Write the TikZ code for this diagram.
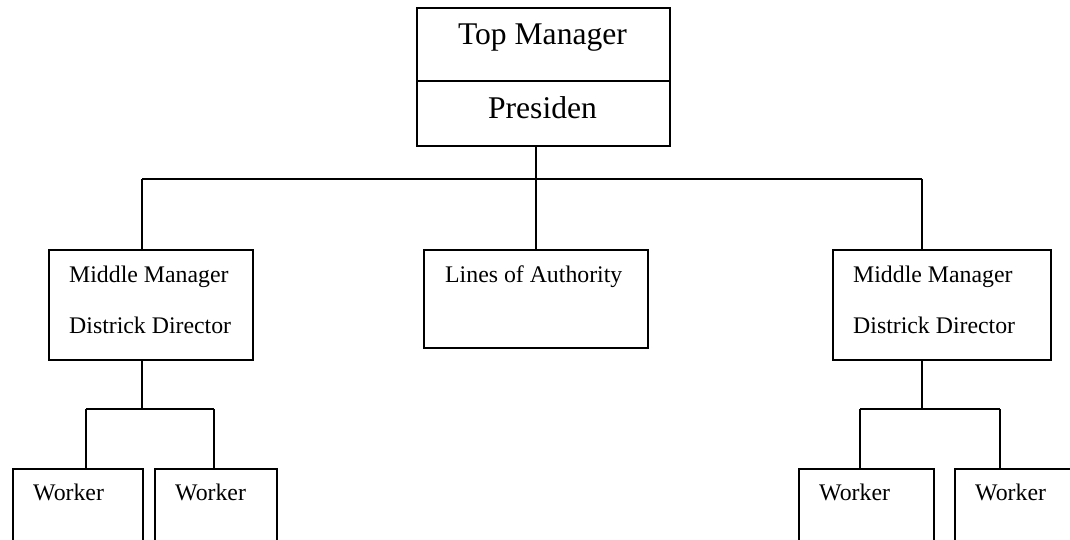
\documentclass[tikz,border=0pt]{standalone}
\usepackage{fontspec}
\setmainfont{Liberation Serif}

\begin{document}
\begin{tikzpicture}[
  x = 1pt, y = -1pt,
  box/.style={draw, line width=2pt, rectangle, anchor=north west, inner sep=0pt},
  bigtext/.style={anchor=base, inner sep=0pt, font=\fontsize{31.6}{38}\selectfont},
  smalltext/.style={anchor=base west, inner sep=0pt, font=\fontsize{23.8}{29}\selectfont},
  link/.style={line width=2pt, color=black}
]
    \useasboundingbox (0,0) rectangle (1070,540);
    \clip (0,0) rectangle (1070,540);

    % Top Manager
    \node (top) at (416, 7) [box, minimum width=253, minimum height=73] {};
    \node (toptxt) at ([shift={(126.5,38)}]top.north west) [bigtext] {Top Manager};

    % Presiden
    \node (pres) at (416, 80) [box, minimum width=253, minimum height=65] {};
    \node (prestxt) at ([shift={(126.5,39)}]pres.north west) [bigtext] {Presiden};

    % Middle Manager (left)
    \node (mmL) at (48, 249) [box, minimum width=204, minimum height=110] {};
    \node (mmLa) at ([shift={(21,33)}]mmL.north west) [smalltext] {Middle Manager};
    \node (mmLb) at ([shift={(21,84)}]mmL.north west) [smalltext] {Districk Director};

    % Lines of Authority
    \node (lines) at (423, 249) [box, minimum width=224, minimum height=98] {};
    \node (linestxt) at ([shift={(22,33)}]lines.north west) [smalltext] {Lines of Authority};

    % Middle Manager (right)
    \node (mmR) at (832, 249) [box, minimum width=218, minimum height=110] {};
    \node (mmRa) at ([shift={(21,33)}]mmR.north west) [smalltext] {Middle Manager};
    \node (mmRb) at ([shift={(21,84)}]mmR.north west) [smalltext] {Districk Director};

    % Workers
    \node (wL1) at (12, 468) [box, minimum width=130, minimum height=100] {};
    \node (wL1txt) at ([shift={(21,32)}]wL1.north west) [smalltext] {Worker};
    \node (wL2) at (154, 468) [box, minimum width=122, minimum height=100] {};
    \node (wL2txt) at ([shift={(21,32)}]wL2.north west) [smalltext] {Worker};
    \node (wR1) at (798, 468) [box, minimum width=135, minimum height=100] {};
    \node (wR1txt) at ([shift={(21,32)}]wR1.north west) [smalltext] {Worker};
    \node (wR2) at (954, 468) [box, minimum width=140, minimum height=100] {};
    \node (wR2txt) at ([shift={(21,32)}]wR2.north west) [smalltext] {Worker};

    % Junctions
    \coordinate (busL) at (142, 179);
    \coordinate (busR) at (922, 179);
    \coordinate (forkL) at (142, 409);
    \coordinate (forkR) at (922, 409);
    \coordinate (jL1) at (86, 409);
    \coordinate (jL2) at (214, 409);
    \coordinate (jR1) at (860, 409);
    \coordinate (jR2) at (1000, 409);

    % Lines
    \draw[link] (pres.south -| lines.north) -- (lines.north);
    \draw[link] (busL) -- (busR);
    \draw[link] (busL) -- (busL |- mmL.north);
    \draw[link] (busR) -- (busR |- mmR.north);
    \draw[link] (busL |- mmL.south) -- (forkL);
    \draw[link] (busR |- mmR.south) -- (forkR);
    \draw[link] (jL1) -- (jL2);
    \draw[link] (jR1) -- (jR2);
    \draw[link] (jL1) -- (jL1 |- wL1.north);
    \draw[link] (jL2) -- (jL2 |- wL2.north);
    \draw[link] (jR1) -- (jR1 |- wR1.north);
    \draw[link] (jR2) -- (jR2 |- wR2.north);
\end{tikzpicture}
\end{document}
